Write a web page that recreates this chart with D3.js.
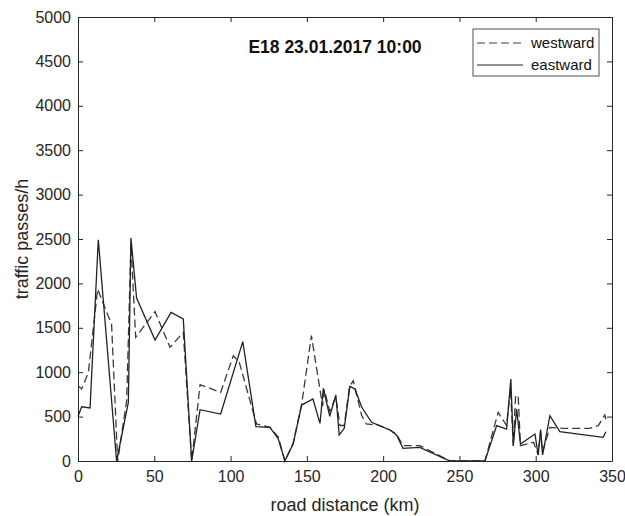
<!DOCTYPE html>
<html>
<head>
<meta charset="utf-8">
<script src="https://cdn.jsdelivr.net/npm/d3@7/dist/d3.min.js"></script>
<style>
  body { margin: 0; background: #fff; }
  svg { display: block; font-family: "Liberation Sans", Arial, sans-serif; }
  .axis path, .axis line { stroke: #262626; }
  .axis text { fill: #262626; font-size: 16px; }
</style>
</head>
<body>
<div id="viz"></div>
<script>
// eastward (solid) - km along road and traffic passes/h
const eastKm = [0, 2.4, 7.9, 13.3, 25.3, 33, 34.7, 38.4, 50.5, 61, 69, 74.5, 80, 93.5, 108,
  116.6, 125.8, 131.3, 135.6, 141, 146.6, 154, 158.6, 160.8, 165, 169, 171.2, 174.5, 178.2,
  181.5, 186, 192.4, 196.8, 204.5, 208.8, 213, 224, 243.8, 266.7, 274.4, 280.9, 283.7,
  285.3, 287.5, 290, 299.5, 301.6, 303.2, 304.5, 309.3, 315.8, 344.2, 346];
const eastVal = [500, 611, 597, 2492, 0, 660, 2511, 1836, 1362, 1674, 1599, 0, 578, 529, 1344,
  387, 379, 248, 0, 191, 630, 698, 424, 818, 503, 743, 293, 368, 841,
  811, 605, 436, 405, 349, 293, 143, 154, 0, 0, 398, 360, 923,
  173, 586, 191, 304, 68, 353, 68, 510, 330, 266, 330];

// westward (dashed)
const westKm = [0, 2.4, 6.8, 12.9, 18.8, 22, 26, 31.9, 34.7, 37.8, 50.5, 60.3, 69, 74.5, 80,
  93.5, 101.8, 105.7, 117, 125.8, 131.3, 135.6, 141, 146.6, 153, 160.3, 161.5, 165, 169,
  171.7, 174.5, 178, 180.4, 186, 189, 196.8, 204.5, 208.8, 213, 224, 243.8, 266.7, 275.4,
  280.9, 283.5, 285.3, 286.8, 288.5, 290, 298.6, 301.6, 303.2, 304.5, 309.3, 318, 335.5,
  341, 345.3, 346];
const westVal = [848, 811, 999, 1937, 1674, 1543, 0, 680, 2450, 1393, 1682, 1280, 1449, 0, 860,
  773, 1186, 1111, 417, 379, 270, 0, 200, 640, 1411, 620, 800, 560, 720,
  400, 400, 840, 904, 510, 417, 405, 349, 300, 173, 173, 0, 0, 548,
  398, 820, 173, 736, 736, 173, 210, 68, 330, 100, 379, 368, 368,
  398, 518, 470];

const xTicks = [0, 50, 100, 150, 200, 250, 300, 350];
const yTicks = [0, 500, 1000, 1500, 2000, 2500, 3000, 3500, 4000, 4500, 5000];
const seriesNames = ['westward', 'eastward'];
const chartTitle = 'E18 23.01.2017 10:00';

const WIDTH = 625;
const HEIGHT = 516;
const BOX = { left: 78, right: 612, top: 17, bottom: 461 };

const svg = d3.select('#viz').append('svg')
  .attr('width', WIDTH)
  .attr('height', HEIGHT);

const x = d3.scaleLinear().domain([0, 350]).range([BOX.left, BOX.right]);
const y = d3.scaleLinear().domain([0, 5000]).range([BOX.bottom, BOX.top]);

// axes, matlab style: ticks pointing inward on all four sides
svg.append('g').attr('class', 'axis')
  .attr('transform', `translate(0,${BOX.bottom})`)
  .call(d3.axisBottom(x).tickValues(xTicks).tickFormat(d3.format('d'))
    .tickSize(-5).tickPadding(10).tickSizeOuter(0));
svg.append('g').attr('class', 'axis')
  .attr('transform', `translate(0,${BOX.top})`)
  .call(d3.axisTop(x).tickValues(xTicks).tickSize(-5).tickFormat('').tickSizeOuter(0));
svg.append('g').attr('class', 'axis')
  .attr('transform', `translate(${BOX.left},0)`)
  .call(d3.axisLeft(y).tickValues(yTicks).tickFormat(d3.format('d'))
    .tickSize(-5).tickPadding(7).tickSizeOuter(0));
svg.append('g').attr('class', 'axis')
  .attr('transform', `translate(${BOX.right},0)`)
  .call(d3.axisRight(y).tickValues(yTicks).tickSize(-5).tickFormat('').tickSizeOuter(0));

const line = d3.line()
  .x(d => x(d[0]))
  .y(d => y(d[1]));

svg.append('path')
  .datum(d3.zip(westKm, westVal))
  .attr('fill', 'none')
  .attr('stroke', '#3a3a3a')
  .attr('stroke-width', 1.3)
  .attr('stroke-dasharray', '8,4')
  .attr('d', line);

svg.append('path')
  .datum(d3.zip(eastKm, eastVal))
  .attr('fill', 'none')
  .attr('stroke', '#222')
  .attr('stroke-width', 1.3)
  .attr('d', line);

// title
svg.append('text')
  .attr('x', 335).attr('y', 53)
  .attr('text-anchor', 'middle')
  .attr('font-size', 17.5)
  .attr('font-weight', 'bold')
  .attr('fill', '#111')
  .text(chartTitle);

// axis labels
svg.append('text')
  .attr('x', (BOX.left + BOX.right) / 2).attr('y', 511)
  .attr('text-anchor', 'middle')
  .attr('font-size', 18)
  .attr('fill', '#262626')
  .text('road distance (km)');
svg.append('text')
  .attr('transform', `translate(28,${(BOX.top + BOX.bottom) / 2}) rotate(-90)`)
  .attr('text-anchor', 'middle')
  .attr('font-size', 18)
  .attr('fill', '#262626')
  .text('traffic passes/h');

// legend
const legend = svg.append('g').attr('transform', 'translate(473,29)');
legend.append('rect')
  .attr('width', 126).attr('height', 47)
  .attr('fill', '#fff')
  .attr('stroke', '#262626')
  .attr('stroke-width', 0.8);
seriesNames.forEach((name, i) => {
  const ly = 14 + i * 22;
  legend.append('line')
    .attr('x1', 4).attr('x2', 50)
    .attr('y1', ly).attr('y2', ly)
    .attr('stroke', i === 0 ? '#3a3a3a' : '#222')
    .attr('stroke-width', 1)
    .attr('stroke-dasharray', i === 0 ? '8,4' : null);
  legend.append('text')
    .attr('x', 58).attr('y', ly + 5)
    .attr('font-size', 15)
    .attr('fill', '#111')
    .text(name);
});
</script>
</body>
</html>
